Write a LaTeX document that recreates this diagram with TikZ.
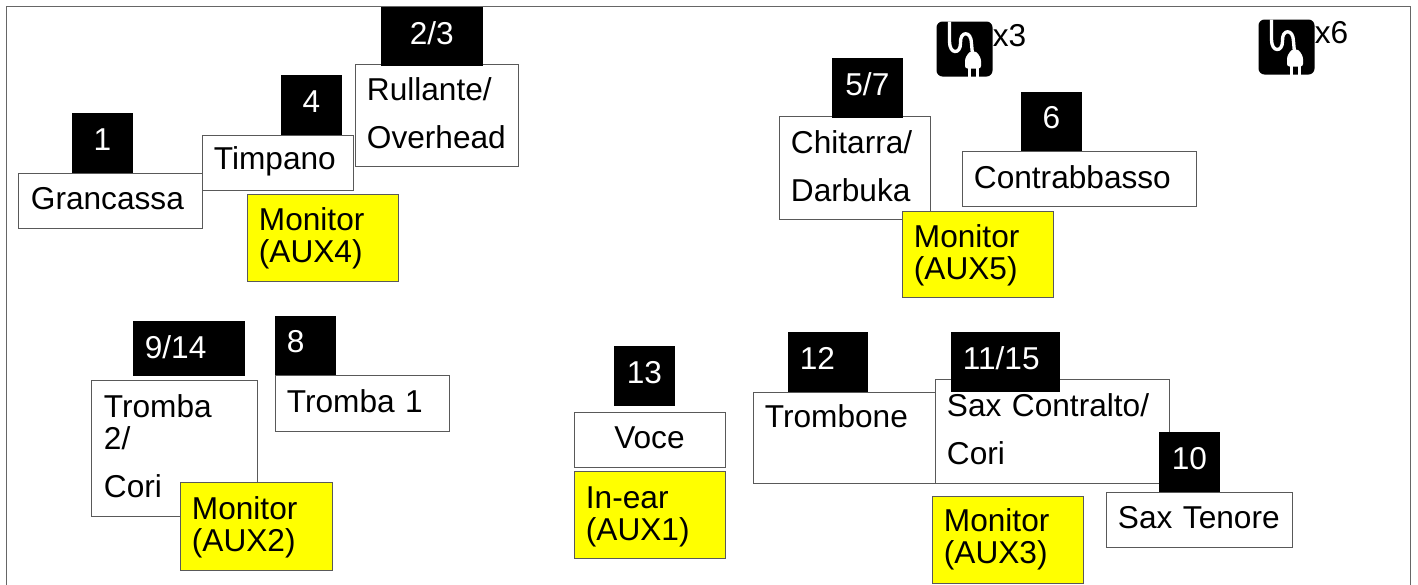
\documentclass[tikz,border=0pt]{standalone}
\usepackage{fontspec}
\setmainfont{Liberation Sans}
\definecolor{monitoryellow}{RGB}{255,255,0}
\tikzset{
  textup/.style={execute at end node={\par\vspace{#1pt}}},
  stagebox/.style 2 args={anchor=north west, inner xsep=0.24cm, inner ysep=0pt, align=left,
    text width=#1*0.02cm-0.48cm, minimum height=#2*0.02cm,
    font=\fontsize{18}{18.2}\selectfont},
  whitebox/.style 2 args={stagebox={#1}{#2}, draw=black!65, line width=0.5pt, fill=white, textup=1.7},
  blackbox/.style 2 args={stagebox={#1}{#2}, fill=black, text=white, textup=4},
  yellowbox/.style 2 args={stagebox={#1}{#2}, draw=black!65, line width=0.5pt, fill=monitoryellow},
  pics/plugicon/.style={code={
    \fill[black, rounded corners=0.12cm] (0,0) rectangle (56,55);
    \draw[white, line width=1.9pt] (13,0) -- (13,20) .. controls (13,33) and (24,33) .. (24,22)
      .. controls (23,9) and (35,9) .. (35,22) -- (36,33);
    \fill[white, rounded corners=0.05cm] (28.5,47) -- (28.5,37) -- (33,30) -- (40,30) -- (44.5,37) -- (44.5,47) -- cycle;
    \fill[white] (31,45) rectangle (34.5,55);
    \fill[white] (39,45) rectangle (42.5,55);
  }}
}
\begin{document}
\begin{tikzpicture}[x=0.02cm, y=-0.02cm]
\useasboundingbox (0.5,0.5) rectangle (1418.5,585.5);
% Stage outline
\draw[black!60, line width=0.9pt] (7,586) -- (7,7) -- (1411,7) -- (1411,586);

% Power sockets
\pic at (937,22) {plugicon};
\node[anchor=west, inner sep=0pt, font=\fontsize{18}{18.2}\selectfont] (sockets3) at (993,36) {x3};
\pic at (1259,20) {plugicon};
\node[anchor=west, inner sep=0pt, font=\fontsize{18}{18.2}\selectfont] (sockets6) at (1315,33) {x6};

% Instruments
\node[whitebox={183}{55}] (grancassa) at (19,173) {Grancassa};
\node[whitebox={151}{55}] (timpano) at (202,135) {Timpano};
\node[whitebox={163}{102}] (rullante) at (355,64) {Rullante/\\[9pt]Overhead};
\node[whitebox={151}{103}] (chitarra) at (779,116) {Chitarra/\\[9pt]Darbuka};
\node[whitebox={234}{55}] (contrabbasso) at (962,151) {Contrabbasso};
\node[whitebox={165}{136}] (tromba2) at (92,380) {Tromba\\2/\\[9pt]Cori};
\node[whitebox={174}{56}] (tromba1) at (275,375) {Tromba 1};
\node[whitebox={151}{55}, align=center] (voce) at (574,412) {Voce};
\node[whitebox={182}{91}] (trombone) at (753,392) {Trombone\\[5pt]\mbox{}};
\node[whitebox={234}{104}] (saxcontralto) at (935,379) {Sax Contralto/\\[9pt]Cori};
\node[whitebox={186}{55}] (saxtenore) at (1106,492) {Sax Tenore};

% Channel numbers
\node[blackbox={61}{60}, align=center] (ch1) at (72,113) {1};
\node[blackbox={61}{60}, align=center] (ch4) at (281,75) {4};
\node[blackbox={102}{59}, align=center] (ch23) at (381,7) {2/3};
\node[blackbox={71}{60}, align=center] (ch57) at (832,58) {5/7};
\node[blackbox={61}{59}, align=center] (ch6) at (1021,92) {6};
\node[blackbox={112}{55}, textup=-2.3] (ch914) at (133,321) {9/14};
\node[blackbox={61}{59}] (ch8) at (275,316) {8};
\node[blackbox={61}{60}, align=center] (ch13) at (614,346) {13};
\node[blackbox={80}{60}] (ch12) at (788,332) {12};
\node[blackbox={109}{60}] (ch1115) at (951,332) {11/15};
\node[blackbox={61}{60}, align=center] (ch10) at (1159,432) {10};

% Monitors
\node[yellowbox={151}{87}, textup=-0.6] (aux4) at (247,194) {Monitor\\(AUX4)};
\node[yellowbox={151}{86}, textup=-1.7] (aux5) at (902,211) {Monitor\\(AUX5)};
\node[yellowbox={152}{88}, textup=-1.2] (aux2) at (180,482) {Monitor\\(AUX2)};
\node[yellowbox={151}{87}, textup=-2.8] (aux1) at (574,471) {In-ear\\(AUX1)};
\node[yellowbox={151}{87}] (aux3) at (932,496) {Monitor\\(AUX3)};
\end{tikzpicture}
\end{document}
